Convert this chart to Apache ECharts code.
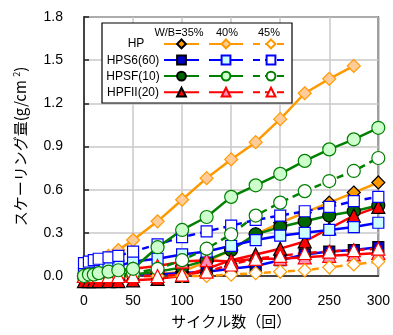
<!DOCTYPE html>
<html>
<head>
<meta charset="utf-8">
<script src="https://cdn.jsdelivr.net/npm/echarts@6/dist/echarts.min.js"></script>
<style>
  html, body { margin: 0; padding: 0; background: #fff; }
  #chart { width: 393px; height: 335px; }
</style>
</head>
<body>
<div id="chart"></div>
<script>
// Freeze-thaw cycles (x) and scaling amount in g/cm2 (y)
const cycles = [0, 5, 10, 15, 25, 35, 50, 75, 100, 125, 150, 175, 200, 225, 250, 275, 300];

// HP
const hp35 = [0, 0, 0, 0, 0, 0, 0.01, 0.01, 0.03, 0.10, 0.18, 0.29, 0.37, 0.44, 0.51, 0.58, 0.65];
const hp40 = [0, 0.03, 0.06, 0.09, 0.14, 0.18, 0.25, 0.38, 0.53, 0.68, 0.81, 0.93, 1.09, 1.27, 1.37, 1.46, null];
const hp45 = [0, 0, 0, 0, 0, 0, 0, 0, 0, 0, 0.01, 0.02, 0.03, 0.04, 0.06, 0.08, 0.10];
// HPS6(60)
const s635 = [0, 0, 0, 0, 0, 0, 0.01, 0.01, 0.02, 0.03, 0.05, 0.07, 0.11, 0.15, 0.17, 0.18, 0.20];
const s640 = [0.02, 0.03, 0.04, 0.05, 0.06, 0.07, 0.10, 0.12, 0.15, 0.17, 0.21, 0.25, 0.28, 0.30, 0.32, 0.34, 0.37];
const s645 = [0.09, 0.10, 0.11, 0.12, 0.13, 0.14, 0.17, 0.22, 0.27, 0.31, 0.35, 0.39, 0.42, 0.45, 0.48, 0.52, 0.55];
// HPSF(10)
const sf35 = [0, 0, 0, 0, 0, 0, 0.01, 0.03, 0.06, 0.11, 0.18, 0.29, 0.34, 0.38, 0.42, 0.45, 0.49];
const sf40 = [0, 0.01, 0.01, 0.02, 0.03, 0.04, 0.05, 0.20, 0.32, 0.41, 0.55, 0.63, 0.71, 0.80, 0.88, 0.95, 1.03];
const sf45 = [0, 0, 0, 0, 0, 0.01, 0.02, 0.05, 0.11, 0.19, 0.29, 0.42, 0.51, 0.59, 0.66, 0.73, 0.82];
// HPFII(20)
const f235 = [-0.035, -0.035, -0.035, -0.035, -0.035, -0.035, -0.03, -0.02, 0.0, 0.05, 0.11, 0.15, 0.19, 0.24, 0.33, 0.42, 0.48];
const f240 = [0, 0, 0.01, 0.01, 0.02, 0.03, 0.05, 0.07, 0.10, 0.11, 0.10, 0.12, 0.12, 0.13, 0.14, 0.15, 0.16];
const f245 = [0, 0, 0, 0, 0, 0, 0, 0, 0.01, 0.03, 0.08, 0.12, 0.14, 0.16, 0.17, 0.18, 0.19];

const mixes = ['HP', 'HPS6(60)', 'HPSF(10)', 'HPFII(20)'];
const ratios = ['35%', '40%', '45%'];
const yTicks = [0, 0.3, 0.6, 0.9, 1.2, 1.5, 1.8];
const xTicks = [0, 50, 100, 150, 200, 250, 300];

const valueSets = [
  [hp35, hp40, hp45],
  [s635, s640, s645],
  [sf35, sf40, sf45],
  [f235, f240, f245]
];

const lineColors = ['#FF9900', '#0000FF', '#008000', '#FF0000'];
const symbols = ['diamond', 'rect', 'circle', 'triangle'];
const symbolSizes = [13, 11, 13, 13];
const darkFills = ['#FF9900', '#0000CC', '#006600', '#FF0000'];
const lightFills = ['#FFCC99', '#CCFFFF', '#CCFFCC', '#FF8FB8'];

function makeSeries(m, k) {
  const vals = valueSets[m][k];
  const fill = k === 0 ? darkFills[m] : (k === 1 ? lightFills[m] : '#FFFFFF');
  const border = k === 0 ? '#000000' : lineColors[m];
  return {
    name: mixes[m] + ' ' + ratios[k],
    type: 'line',
    clip: false,
    data: cycles.map((c, i) => [c, vals[i]]),
    symbol: symbols[m],
    symbolSize: symbolSizes[m],
    showAllSymbol: true,
    connectNulls: false,
    lineStyle: { color: lineColors[m], width: 2.5, type: k === 2 ? [7, 5] : 'solid' },
    itemStyle: { color: fill, borderColor: border, borderWidth: 1.2, opacity: 1 },
    emphasis: { disabled: true },
    animation: false
  };
}

// Drawn ratio by ratio; the HPSF(10) 40% curve goes last so its circles stay in front
const series = [];
ratios.forEach((r, k) => {
  mixes.forEach((mix, m) => {
    if (!(m === 2 && k === 1)) series.push(makeSeries(m, k));
  });
});
series.push(makeSeries(2, 1));

const legendLeft = [163, 208, 252];
const legendWidth = [35, 34, 36];
const legends = ratios.map((r, k) => ({
  orient: 'vertical',
  left: legendLeft[k],
  top: 38.5,
  padding: 0,
  itemWidth: legendWidth[k],
  itemHeight: 11,
  itemGap: 5.3,
  selectedMode: false,
  z: 10,
  data: mixes.map(mix => mix + ' ' + r),
  formatter: () => '',
  textStyle: { fontSize: 11, lineHeight: 11 },
  lineStyle: { width: 2 }
}));

const labelFont = 'Liberation Sans, Arial, sans-serif';
const cjkFont = '"Noto Sans CJK JP", sans-serif';

const graphics = [
  {
    type: 'rect', z: 3,
    shape: { x: 102, y: 23, width: 190, height: 80 },
    style: { fill: '#FFFFFF', stroke: '#000000', lineWidth: 1.2 }
  },
  { type: 'text', z: 10, x: 179, y: 33,
    style: { text: 'W/B=35%', fontSize: 11, fontFamily: labelFont, fill: '#000', align: 'center', verticalAlign: 'middle' } },
  { type: 'text', z: 10, x: 227, y: 33,
    style: { text: '40%', fontSize: 11, fontFamily: labelFont, fill: '#000', align: 'center', verticalAlign: 'middle' } },
  { type: 'text', z: 10, x: 269, y: 33,
    style: { text: '45%', fontSize: 11, fontFamily: labelFont, fill: '#000', align: 'center', verticalAlign: 'middle' } }
];
const rowLabelX = [136, 133, 133, 133];
mixes.forEach((mix, m) => {
  graphics.push({
    type: 'text', z: 10, x: rowLabelX[m], y: 44 + m * 16.3,
    style: { text: mix, fontSize: 12, fontFamily: labelFont, fill: '#000', align: 'center', verticalAlign: 'middle' }
  });
});

const chart = echarts.init(document.getElementById('chart'), null, { renderer: 'canvas' });
chart.setOption({
  animation: false,
  backgroundColor: '#FFFFFF',
  grid: {
    left: 84, right: 13, top: 17, bottom: 59,
    show: true, borderColor: '#222', borderWidth: 1.5, backgroundColor: 'transparent'
  },
  xAxis: {
    type: 'value', min: xTicks[0], max: xTicks[xTicks.length - 1], interval: 50,
    name: 'サイクル数（回）', nameLocation: 'middle', nameGap: 38,
    nameTextStyle: { fontSize: 15, fontFamily: cjkFont, color: '#000' },
    axisLine: { show: true, lineStyle: { color: '#222', width: 1.5 } },
    axisTick: { show: false },
    axisLabel: { fontSize: 14, fontFamily: labelFont, color: '#000', margin: 18 },
    splitLine: { show: true, lineStyle: { color: '#C8C8C8', width: 1.5 } }
  },
  yAxis: {
    type: 'value', min: yTicks[0], max: yTicks[yTicks.length - 1], interval: 0.3,
    name: '{a|スケーリング量(g/cm }{s|2}{a|)}', nameLocation: 'middle', nameGap: 55, nameRotate: 90,
    nameTextStyle: {
      color: '#000',
      rich: {
        a: { fontSize: 15, fontFamily: cjkFont, color: '#000' },
        s: { fontSize: 9, fontFamily: cjkFont, color: '#000', verticalAlign: 'top', padding: [0, 0, 8, 0] }
      }
    },
    axisLine: { show: true, lineStyle: { color: '#222', width: 1.5 } },
    axisTick: { show: true, inside: true, length: 5, lineStyle: { color: '#222', width: 1.5 } },
    axisLabel: { fontSize: 14, fontFamily: labelFont, color: '#000', margin: 21,
      formatter: v => v.toFixed(1) },
    splitLine: { show: true, lineStyle: { color: '#C8C8C8', width: 1.5 } }
  },
  legend: legends,
  graphic: graphics,
  series: series
});
</script>
</body>
</html>
